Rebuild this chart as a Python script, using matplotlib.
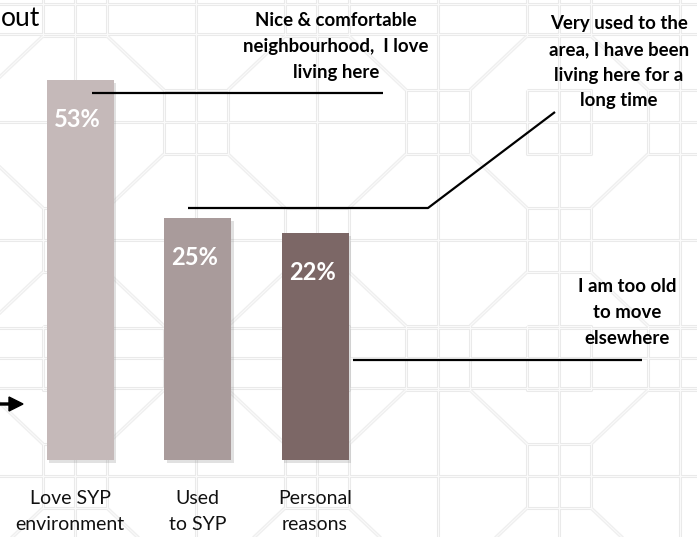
import matplotlib
matplotlib.use("Agg")
import matplotlib.pyplot as plt
import matplotlib.patheffects as pe
from matplotlib.transforms import offset_copy
import numpy as np

# ---- data -------------------------------------------------------------
categories = ["Love SYP\nenvironment", "Used\nto SYP", "Personal\nreasons"]
shares = [53, 25, 22]
value_labels = ["53%", "25%", "22%"]
bar_colors = ["#c5b9b9", "#a99b9b", "#7c6766"]

quotes = [
    "Nice & comfortable\nneighbourhood,  I love\nliving here",
    "Very used to the\narea, I have been\nliving here for a\nlong time",
    "I am too old\nto move\nelsewhere",
]
title_fragment = "out"

# ---- figure -----------------------------------------------------------
W, H, DPI = 697, 537, 100
FONT = "Lato"
fig = plt.figure(figsize=(W / DPI, H / DPI), dpi=DPI)
fig.patch.set_facecolor("white")


def pixel_axes(z):
    a = fig.add_axes([0, 0, 1, 1], zorder=z)
    a.set_xlim(0, W)
    a.set_ylim(H, 0)
    a.axis("off")
    a.patch.set_alpha(0)
    return a


back = pixel_axes(0)
ax = fig.add_axes([0, 0, 1, 1], zorder=1)
ax.axis("off")
ax.patch.set_alpha(0)
front = pixel_axes(2)

# ---- lattice backdrop ------------------------------------------------
gx0, gdx = 559, 121
gy0, gdy = 240, 118
hs = 32
straight, diagonal = [], []

I = range(-6, 3)
J = range(-3, 4)
for i in I:
    xv = gx0 + gdx * i
    straight.append(((xv, xv), (-10, H + 10)))
for j in J:
    yv = gy0 + gdy * j
    straight.append(((-10, W + 10), (yv, yv)))
# ladder rows
for j in (-2, 1):
    yv = gy0 + gdy * j
    for d in (-30, 30):
        straight.append(((-10, W + 10), (yv + d, yv + d)))


def is_cluster(i, j):
    return (i + j) % 2 == 0 or i == 0 or j == 1


for i in I:
    for j in J:
        cx, cy = gx0 + gdx * i, gy0 + gdy * j
        if is_cluster(i, j):
            straight.append(((cx - hs, cx + hs, cx + hs, cx - hs, cx - hs),
                             (cy - hs, cy - hs, cy + hs, cy + hs, cy - hs)))
        if (i + j) % 2 == 0:
            nx, ny = cx + gdx, cy + gdy
            diagonal.append(((cx + hs, nx - hs), (cy + hs, ny - hs)))
            nx, ny = cx + gdx, cy - gdy
            diagonal.append(((cx + hs, nx - hs), (cy - hs, ny + hs)))

for (xx, yy) in straight:
    back.plot(xx, yy, color="#eaeaea", lw=2.2, solid_capstyle="butt")
for (xx, yy) in diagonal:
    back.plot(xx, yy, color="#efefef", lw=2.6, solid_capstyle="butt")
for (xx, yy) in straight + diagonal:
    back.plot(xx, yy, color="#fbfbfb", lw=0.7, solid_capstyle="butt")

# ---- bars ------------------------------------------------------------
x = np.arange(len(categories))
ax.set_xlim(-0.681, 5.251)
ax.set_ylim(-39.6, 69.1)
base = -24.0
bars = ax.bar(x, np.array(shares) - base, bottom=base, width=0.57,
              color=bar_colors, linewidth=0)
for b in bars:
    b.set_path_effects([pe.SimplePatchShadow(offset=(2, -2.5),
                                             shadow_rgbFace="#8a8a8a",
                                             alpha=0.25),
                        pe.Normal()])

for xi, v, lbl in zip(x, shares, value_labels):
    ax.annotate(lbl, (xi, v), xytext=(-3, -47), textcoords="offset pixels",
                ha="center", va="baseline", color="white",
                fontsize=17, fontweight="bold", family=FONT)

# category captions under the bars (first one sits slightly left)
caption_shift_px = [-10, 0, 0]
xt = ax.get_xaxis_transform()
for xi, cat, dx in zip(x, categories, caption_shift_px):
    tr = offset_copy(xt, fig=fig, x=dx, y=0, units="dots")
    for k, line in enumerate(cat.split("\n")):
        ypx = 504 + 26 * k
        ax.text(xi, 1 - ypx / H, line, transform=tr, ha="center",
                va="baseline", fontsize=14, family=FONT, color="#111111")

# ---- quotes and leader lines ----------------------------------------
quote_pos = [(336, 26), (619, 29), (627, 292)]
for q, (qx, qy) in zip(quotes, quote_pos):
    for k, line in enumerate(q.split("\n")):
        front.text(qx, qy + 25.8 * k, line, ha="center", va="baseline",
                   fontsize=13.4, fontweight="bold", family=FONT,
                   color="#000000")

leaders = [
    ([92, 383], [93, 93]),
    ([188, 428, 555], [208, 208, 112]),
    ([353, 642], [360, 360]),
]
for lx, ly in leaders:
    front.plot(lx, ly, color="black", lw=1.6, solid_capstyle="butt")

front.arrow(-2, 404, 25, 0, width=2, head_width=14, head_length=14,
            length_includes_head=True, color="black")

front.text(1, 26, title_fragment, ha="left", va="baseline",
           fontsize=19, family=FONT, color="#000000")

fig.savefig("out.png", dpi=DPI, facecolor="white")
